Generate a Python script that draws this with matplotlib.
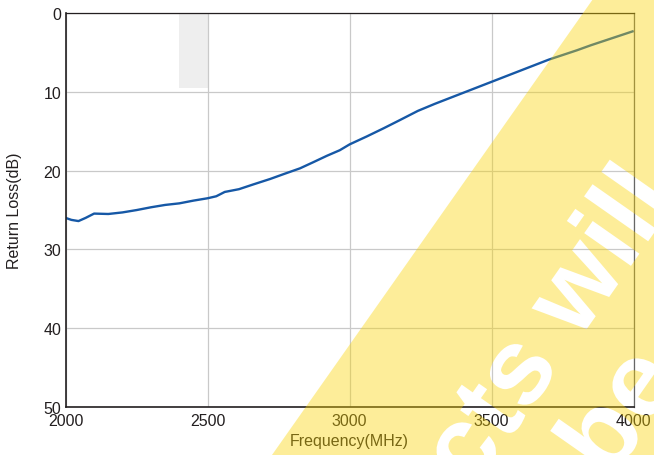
import matplotlib
matplotlib.use("Agg")
import matplotlib.pyplot as plt
from matplotlib.textpath import TextPath
from matplotlib.font_manager import FontProperties
from matplotlib.path import Path
from matplotlib.patches import PathPatch
from matplotlib.transforms import Affine2D, IdentityTransform

plt.rcParams['font.family'] = ['Liberation Sans', 'DejaVu Sans']

# ---- data ----
freq = [2000, 2020, 2045, 2070, 2100, 2150, 2200, 2250, 2300, 2350, 2400, 2450,
        2500, 2530, 2560, 2610, 2660, 2720, 2770, 2825, 2870, 2920, 2965, 3000,
        3060, 3120, 3175, 3240, 3300, 3350, 3400, 3450, 3500, 3550, 3600, 3650,
        3700, 3750, 3800, 3850, 3900, 3950, 4000]
return_loss = [26.0, 26.25, 26.4, 26.0, 25.45, 25.5, 25.3, 25.0, 24.65, 24.35, 24.15, 23.8,
               23.5, 23.25, 22.7, 22.35, 21.75, 21.05, 20.4, 19.7, 18.95, 18.1, 17.4, 16.65,
               15.65, 14.6, 13.6, 12.4, 11.5, 10.8, 10.1, 9.4, 8.7, 8.0, 7.3, 6.6,
               5.9, 5.3, 4.7, 4.05, 3.45, 2.85, 2.25]
shade_x = [2400, 2500]
shade_top = 9.55
x_ticks = [2000, 2500, 3000, 3500, 4000]
y_ticks = [0, 10, 20, 30, 40, 50]
x_label = "Frequency(MHz)"
y_label = "Return Loss(dB)"
wm_line1 = "cts will"
wm_line2 = "be"

TXT = '#231f20'
W, H = 654, 456

fig = plt.figure(figsize=(W / 100, H / 100), dpi=100)
L, R, T, B = 65.7, 633.7, 14.3, 407.8
ax = fig.add_axes([L / W, 1 - B / H, (R - L) / W, (B - T) / H])

ax.fill_between(shade_x, 0, shade_top, color='#eeeeee', zorder=0.3, linewidth=0)
ax.plot(freq, return_loss, color='#1658a6', linewidth=1.7, zorder=2,
        solid_capstyle='butt', solid_joinstyle='round')

ax.set_xlim(2000, 4000)
ax.set_ylim(50, 0)
ax.set_xticks(x_ticks)
ax.set_yticks(y_ticks)
ax.set_axisbelow(True)
ax.grid(True, color='#c9c9c9', linewidth=0.9)
ax.tick_params(length=0, labelsize=11.5, colors=TXT)
ax.tick_params(axis='x', pad=4.8)
ax.tick_params(axis='y', pad=3.2)

for s in ['left', 'bottom']:
    ax.spines[s].set_color(TXT)
    ax.spines[s].set_linewidth(1.2)
ax.spines['top'].set_color(TXT)
ax.spines['top'].set_linewidth(0.9)
ax.spines['right'].set_color('#666666')
ax.spines['right'].set_linewidth(0.9)

fig.text(349.5 / W, 1 - 446 / H, x_label, ha='center', va='baseline',
         fontsize=11.5, color=TXT)
fig.text(19.5 / W, 1 - 211 / H, y_label, ha='center', va='baseline',
         rotation=90, rotation_mode='anchor', fontsize=11.5, color=TXT)

# ---- watermark band with cut-out text ----
fp = FontProperties(family='Liberation Sans', weight='bold')
em = 108
angle = 55
tp1 = TextPath((0, 0), wm_line1, size=em, prop=fp)
tp1 = Affine2D().rotate_deg(angle).translate(471.7, H - 494.3).transform_path(tp1)
tp2 = TextPath((0, 0), wm_line2, size=em, prop=fp)
tp2 = Affine2D().rotate_deg(angle).translate(610, H - 483).transform_path(tp2)
band = Path([(236.8, -50), (720, -50), (720, 506), (628.2, 506), (236.8, -50)],
            [Path.MOVETO, Path.LINETO, Path.LINETO, Path.LINETO, Path.CLOSEPOLY])
compound = Path.make_compound_path(band, tp1, tp2)
patch = PathPatch(compound, facecolor='#FAD402', alpha=0.4, edgecolor='none',
                  transform=IdentityTransform(), zorder=10)
fig.add_artist(patch)

fig.savefig('out.png', dpi=100)
